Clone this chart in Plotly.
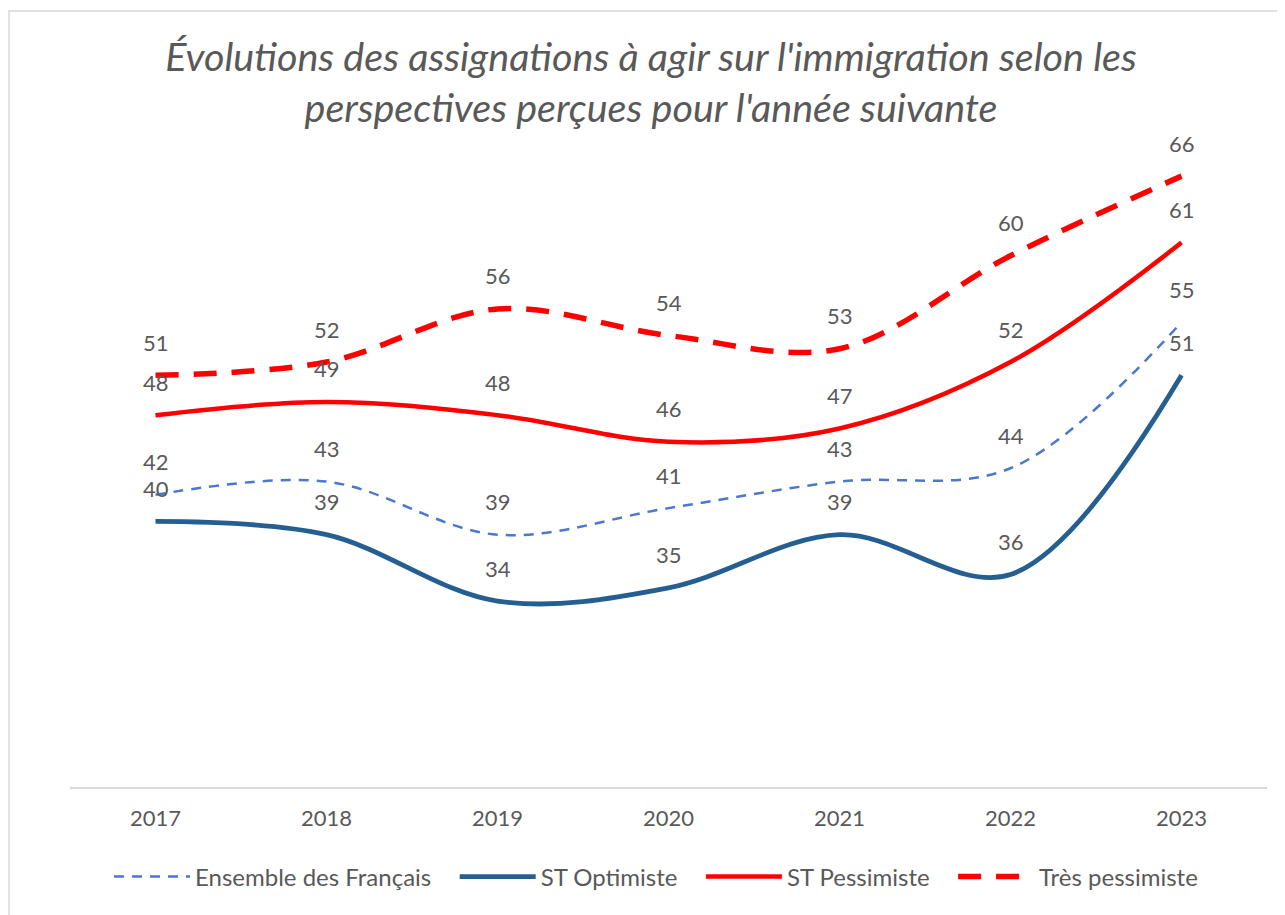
import plotly.graph_objects as go

years = ["2017", "2018", "2019", "2020", "2021", "2022", "2023"]
ensemble = [42, 43, 39, 41, 43, 44, 55]
optimiste = [40, 39, 34, 35, 39, 36, 51]
st_pessimiste = [48, 49, 48, 46, 47, 52, 61]
tres_pessimiste = [51, 52, 56, 54, 53, 60, 66]

series = [
    ("Ensemble des Français", ensemble, "#4A78CF", 2.5, "10px,8px"),
    ("ST Optimiste", optimiste, "#255E91", 4.8, "solid"),
    ("ST Pessimiste", st_pessimiste, "#FF0000", 4.5, "solid"),
    ("Très pessimiste", tres_pessimiste, "#FF0000", 5.5, "23px,15px"),
]

FONT = "Lato"
GREY = "#595959"
W, H = 1277, 907
L, R, T, B = 62, 18, 115, 128
PW, PH = W - L - R, H - T - B
PAD = "\u00a0\u00a0\u00a0"

fig = go.Figure()
for k, (name, vals, color, width, dash) in enumerate(series):
    fig.add_trace(go.Scatter(
        x=years, y=vals, name=name + (PAD if k < len(series) - 1 else ""),
        mode="lines",
        line=dict(color=color, width=width, dash=dash, shape="spline", smoothing=1),
        hoverinfo="x+y",
    ))

# data labels (category axis: position by category index)
for name, vals, color, width, dash in series:
    for i, yv in enumerate(vals):
        fig.add_annotation(
            x=i, y=yv, xref="x", yref="y", text=str(yv), showarrow=False,
            yshift=33, font=dict(family=FONT, size=22, color=GREY),
        )

fig.update_layout(
    width=W, height=H,
    margin=dict(l=L, r=R, t=T, b=B),
    paper_bgcolor="white", plot_bgcolor="white",
    title=dict(
        text="Évolutions des assignations à agir sur l'immigration selon les<br>perspectives perçues pour l'année suivante",
        x=643 / W, xanchor="center", xref="container",
        y=1 - 62.5 / H, yanchor="middle", yref="container",
        font=dict(family=FONT, size=39.5, color=GREY, style="italic"),
    ),
    xaxis=dict(
        type="category", categoryorder="array", categoryarray=years,
        range=[-0.5, 6.5], showgrid=False, zeroline=False,
        showline=True, linecolor="#D9D9D9", linewidth=1.5,
        ticks="", ticklabelstandoff=11,
        tickfont=dict(family=FONT, size=22, color=GREY),
    ),
    yaxis=dict(range=[20, 70], visible=False, showgrid=False, zeroline=False),
    legend=dict(
        orientation="h", xref="container", yref="container",
        x=648 / W, xanchor="center", y=1 - 869 / H, yanchor="middle",
        font=dict(family=FONT, size=24, color=GREY),
        itemwidth=76, bgcolor="rgba(0,0,0,0)",
    ),
    shapes=[dict(
        type="rect", xref="paper", yref="paper",
        x0=(1 - L) / PW, x1=1.3, y0=-0.5, y1=(PH + T - 3) / PH,
        line=dict(color="#D9D9D9", width=1.5), fillcolor="rgba(0,0,0,0)",
        layer="below",
    )],
    showlegend=True,
)

fig.write_html("out.html")
